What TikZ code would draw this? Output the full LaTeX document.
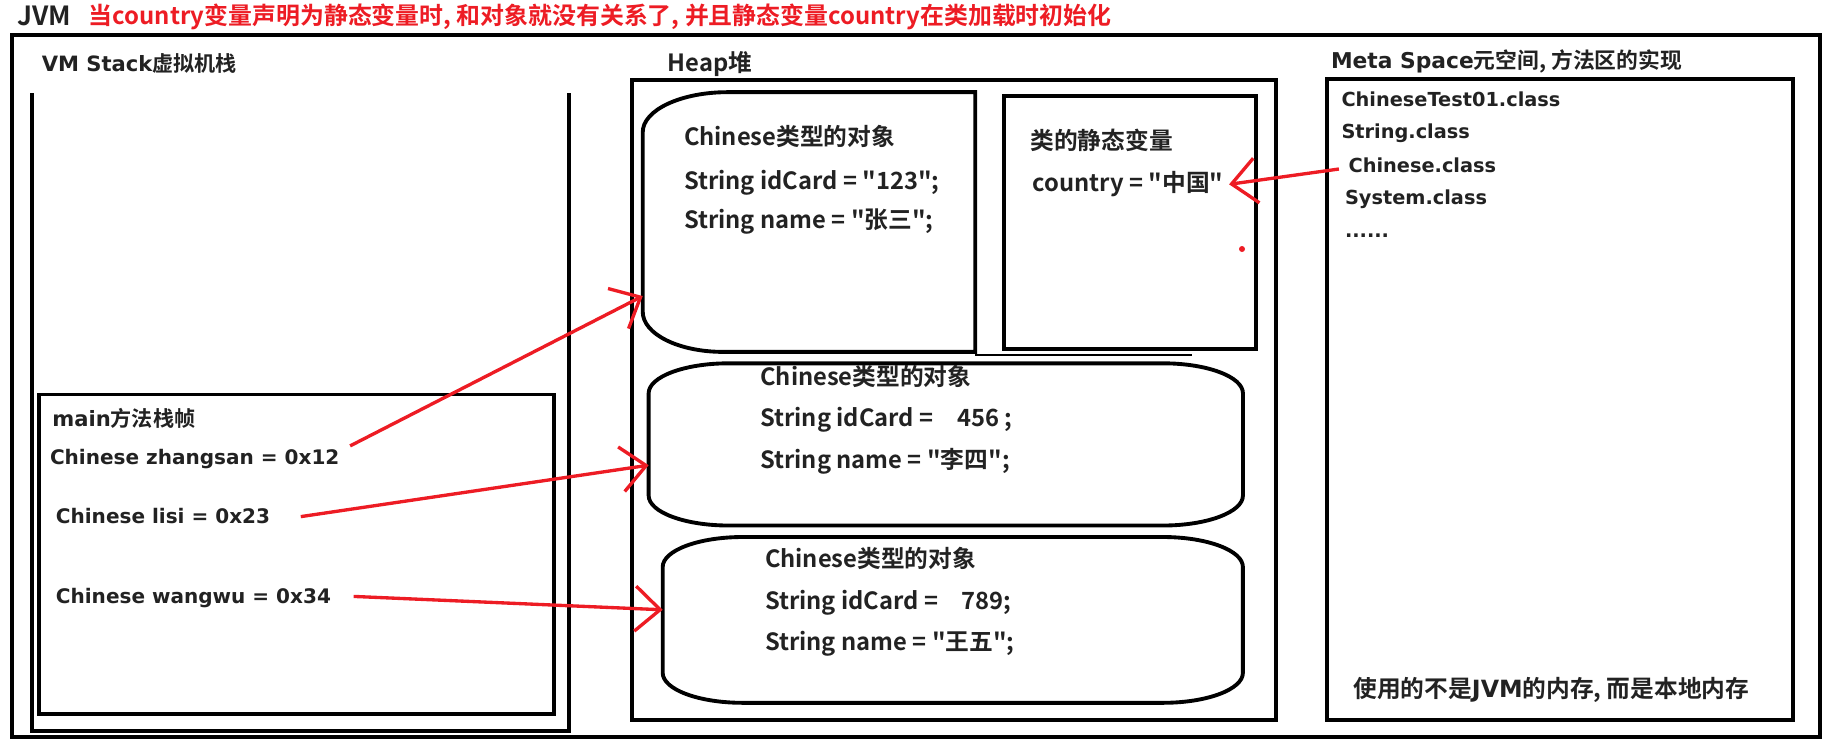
\documentclass[tikz,border=0pt]{standalone}
\usepackage{fontspec}
\usepackage{xcolor}
\usepackage{tikz}
\usetikzlibrary{arrows.meta}
\newfontfamily\cjkb{Noto Sans CJK SC Bold}
\newfontfamily\vdb{DejaVu Sans Bold}
\newcommand\zh[1]{{\cjkb #1}}
\definecolor{paintred}{HTML}{ED1C24}
\definecolor{ink}{HTML}{222222}
% oval outline round a node: #1 node, #2 x radius, #3 y radius
\newcommand\ovalobj[3]{%
    \draw[line width=1.1pt] ([xshift=#2]#1.north west) -- ([xshift=-#2]#1.north east)
        arc[start angle=90,end angle=0,x radius=#2,y radius=#3] -- ([yshift=#3]#1.south east)
        arc[start angle=0,end angle=-90,x radius=#2,y radius=#3] -- ([xshift=#2]#1.south west)
        arc[start angle=270,end angle=180,x radius=#2,y radius=#3] -- ([yshift=-#3]#1.north west)
        arc[start angle=180,end angle=90,x radius=#2,y radius=#3] -- cycle;}

\begin{document}
\begin{tikzpicture}[
        box/.style={rectangle,draw,line width=1.1pt},
        hp/.style={anchor=west,inner sep=0pt,text height=0.6em,text depth=0.2em,text=ink,font=\cjkb\fontsize{6.75}{8}\selectfont},
        vm/.style={hp,font=\vdb\fontsize{5.7}{7}\selectfont},
        arrow/.style={-{Straight Barb[length=2.5mm,width=4.5mm]},draw=paintred,line width=0.95pt}]
        \useasboundingbox (0,0) rectangle (18.41,-7.49);
        % titles
        \node[hp,font=\cjkb\fontsize{7.5}{8}\selectfont] (jvmlbl) at (0.164,-0.188) {JVM};
        \node[hp,text=paintred,font=\cjkb\fontsize{6.8}{8}\selectfont] (title) at (0.881,-0.176) {当country变量声明为静态变量时, 和对象就没有关系了, 并且静态变量country在类加载时初始化};
        \node[box,minimum width=18.08cm,minimum height=7.02cm] (jvm) at (9.159,-3.863) {};
        % stack
        \node[vm,font=\vdb\fontsize{6}{7}\selectfont] (stacklbl) at (0.411,-0.646) {VM Stack\zh{虚拟机栈}};
        \node[minimum width=5.354cm,minimum height=6.364cm] (stack) at (3.006,-4.121) {};
        \draw[line width=1.1pt] (stack.north west) -- (stack.south west) -- (stack.south east) -- (stack.north east);
        \node[box,minimum width=5.155cm,minimum height=3.194cm] (frame) at (2.965,-5.542) {};
        \node[vm,font=\vdb\fontsize{6}{7}\selectfont] (mainlbl) at (0.517,-4.19) {main\zh{方法栈帧}};
        \node[vm] (zs) at (0.493,-4.579) {Chinese zhangsan = 0x12};
        \node[vm] (ls) at (0.552,-5.166) {Chinese lisi = 0x23};
        \node[vm] (ww) at (0.552,-5.964) {Chinese wangwu = 0x34};
        % heap
        \node[hp] (heaplbl) at (6.669,-0.646) {Heap堆};
        \node[box,minimum width=6.445cm,minimum height=6.399cm] (heap) at (9.540,-3.998) {};
        \node[minimum width=3.311cm,minimum height=2.583cm] (obj1) at (8.090,-2.220) {};
        \draw[line width=1.1pt] (obj1.north east) -- ([xshift=8.5mm]obj1.north west)
            arc[start angle=90,end angle=180,x radius=8.5mm,y radius=4mm]
            -- ([yshift=4mm]obj1.south west)
            arc[start angle=180,end angle=270,x radius=8mm,y radius=4mm]
            -- (obj1.south east) -- cycle;
        \node[hp] (t1) at (6.833,-1.385) {Chinese类型的对象};
        \node[hp] (id1) at (6.833,-1.820) {String idCard = "123";};
        \node[hp] (nm1) at (6.833,-2.219) {String name = "张三";};
        \node[box,minimum width=2.524cm,minimum height=2.524cm] (statics) at (11.301,-2.225) {};
        \node[hp] (statlbl) at (10.297,-1.421) {类的静态变量};
        \node[hp] (country) at (10.32,-1.843) {country = "中国"};
        \fill[paintred] (12.42,-2.49) circle (0.03);
        \draw[line width=0.4pt] ([yshift=-0.3mm]obj1.south east) -- +(2.17,0);
        \node[minimum width=5.929cm,minimum height=1.608cm] (obj2) at (9.458,-4.444) {};
        \ovalobj{obj2}{8mm}{3mm}
        \node[hp] (t2) at (7.596,-3.781) {Chinese类型的对象};
        \node[hp] (id2) at (7.596,-4.192) {String idCard =\quad 456 ;};
        \node[hp] (nm2) at (7.596,-4.614) {String name = "李四";};
        \node[minimum width=5.788cm,minimum height=1.644cm] (obj3) at (9.528,-6.199) {};
        \ovalobj{obj3}{8mm}{3mm}
        \node[hp] (t3) at (7.643,-5.600) {Chinese类型的对象};
        \node[hp] (id3) at (7.643,-6.023) {String idCard =\quad 789;};
        \node[hp] (nm3) at (7.643,-6.434) {String name = "王五";};
        % meta space
        \node[vm,font=\vdb\fontsize{6.2}{7}\selectfont] (metalbl) at (13.303,-0.611) {Meta Space\zh{元空间, 方法区的实现}};
        \node[box,minimum width=4.661cm,minimum height=6.41cm] (meta) at (15.598,-3.992) {};
        \node[vm,font=\vdb\fontsize{5.5}{7}\selectfont] (cls1) at (13.408,-0.998) {ChineseTest01.class};
        \node[vm,font=\vdb\fontsize{5.5}{7}\selectfont] (cls2) at (13.408,-1.315) {String.class};
        \node[vm,font=\vdb\fontsize{5.5}{7}\selectfont] (cls3) at (13.479,-1.655) {Chinese.class};
        \node[vm,font=\vdb\fontsize{5.5}{7}\selectfont] (cls4) at (13.443,-1.972) {System.class};
        \node[vm,font=\vdb\fontsize{5.5}{7}\selectfont] (cls5) at (13.443,-2.301) {......};
        \node[vm,font=\vdb\fontsize{6.75}{7}\selectfont] (native) at (13.526,-6.904) {\zh{使用的不是}JVM\zh{的内存, 而是本地内存}};
        % references
        \draw[arrow] ([xshift=1mm,yshift=1.2mm]zs.east) -- (obj1.204);
        \draw[arrow] ([xshift=3mm]ls.east) -- (obj2.184);
        \draw[arrow] ([xshift=2.2mm]ww.east) -- (obj3.178);
        \draw[arrow] ([xshift=-0.9mm,yshift=-0.35mm]cls3.west) -- ([xshift=0.5mm]country.east);
    \end{tikzpicture}
\end{document}
